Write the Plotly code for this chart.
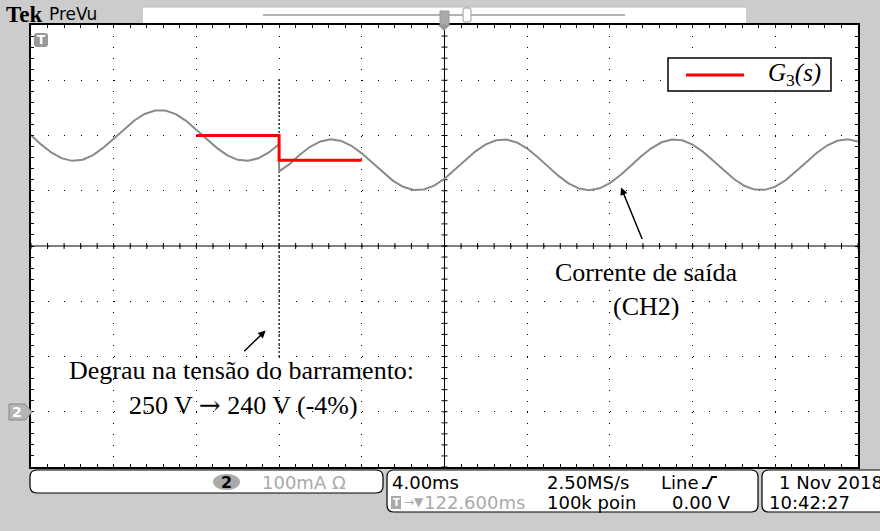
import plotly.graph_objects as go

# ---------------- data ----------------
# Channel 2 output current, time in ms (4 ms/div), current in mA (100 mA/div)
t_ms = [-20.0, -19.5, -19.0, -18.5, -18.0, -17.5, -17.0, -16.5, -16.0, -15.5,
        -15.0, -14.5, -14.0, -13.5, -13.0, -12.5, -12.0, -11.5, -11.0, -10.5,
        -10.0, -9.5, -9.0, -8.5, -8.0,
        -8.0, -7.5, -7.0, -6.5, -6.0, -5.5, -5.0, -4.5, -4.0, -3.5,
        -3.0, -2.5, -2.0, -1.5, -1.0, -0.5, 0.0, 0.5, 1.0, 1.5,
        2.0, 2.5, 3.0, 3.5, 4.0, 4.5, 5.0, 5.5, 6.0, 6.5,
        7.0, 7.5, 8.0, 8.5, 9.0, 9.5, 10.0, 10.5, 11.0, 11.5,
        12.0, 12.5, 13.0, 13.5, 14.0, 14.5, 15.0, 15.5, 16.0, 16.5,
        17.0, 17.5, 18.0, 18.5, 19.0, 19.5, 20.0]
i_ch2_ma = [500.5, 483.5, 468.8, 458.5, 454.1, 456.2, 464.5, 477.8, 494.2, 511.5,
            527.2, 539.0, 545.3, 545.1, 538.6, 526.6, 510.9, 493.6, 477.2, 464.1,
            456.0, 454.2, 458.8, 469.3, 484.1,
            435.0, 448.2, 465.1, 479.5, 489.2, 493.0, 490.2, 481.4, 467.7, 451.0,
            433.8, 418.4, 407.1, 401.5, 402.2, 409.4, 421.8, 437.8, 455.1, 471.3,
            484.0, 491.5, 492.7, 487.4, 476.4, 461.2, 444.1, 427.3, 413.3, 404.1,
            401.0, 404.4, 413.8, 427.9, 444.7, 461.9, 476.9, 487.7, 492.7, 491.3,
            483.6, 470.7, 454.5, 437.1, 421.2, 409.0, 402.1, 401.6, 407.5, 419.0,
            434.5, 451.7, 468.3, 481.8, 490.5, 493.0, 488.9]

# G3(s) model response (mean current)
g3_t_ms = [-12.0, -8.0, -4.0]
g3_i_ma = [500.0, 455.0, 455.0]
g3_label = "<i>G</i><sub>3</sub><i>(s)</i>"

step_t_ms = -8.0
x_range = [-20, 20]
y_range = [-100, 700]

# ---------------- layout helpers ----------------
W, H = 880, 531
L, R, T, B = 31, 858, 25, 467
PW, PH = R - L, B - T
GREY = "#cccccc"
SERIF = "Liberation Serif, Times New Roman, serif"
SANS = "DejaVu Sans, sans-serif"


def X(px):
    return (px - L) / PW


def Y(py):
    return (B - py) / PH


def rr_path(x0, y0, x1, y1, r):
    return (f"M {X(x0 + r)},{Y(y0)} L {X(x1 - r)},{Y(y0)} Q {X(x1)},{Y(y0)} {X(x1)},{Y(y0 + r)} "
            f"L {X(x1)},{Y(y1 - r)} Q {X(x1)},{Y(y1)} {X(x1 - r)},{Y(y1)} "
            f"L {X(x0 + r)},{Y(y1)} Q {X(x0)},{Y(y1)} {X(x0)},{Y(y1 - r)} "
            f"L {X(x0)},{Y(y0 + r)} Q {X(x0)},{Y(y0)} {X(x0 + r)},{Y(y0)} Z")


fig = go.Figure()
fig.add_trace(go.Scatter(x=t_ms, y=i_ch2_ma, mode="lines",
                         line=dict(color="#8a8a8a", width=2), showlegend=False))
fig.add_trace(go.Scatter(x=g3_t_ms, y=g3_i_ma, mode="lines",
                         line=dict(color="#ff0000", width=3, shape="hv"), showlegend=False))

shapes = []
ann = []

# center cross lines with ticks
xs_per_px = (x_range[1] - x_range[0]) / PW
ys_per_px = (y_range[1] - y_range[0]) / PH
shapes.append(dict(type="line", xref="x", yref="y", x0=0, x1=0, y0=y_range[0], y1=y_range[1],
                   line=dict(color="black", width=1), layer="between"))
shapes.append(dict(type="line", xref="x", yref="y", x0=x_range[0], x1=x_range[1], y0=300, y1=300,
                   line=dict(color="black", width=1), layer="between"))
p = ""
k = 0
while k <= 50:
    xv = x_range[0] + k * 0.8
    p += f"M {xv},{300 - 3 * ys_per_px} L {xv},{300 + 3 * ys_per_px} "
    k += 1
k = 0
while k <= 40:
    yv = y_range[0] + k * 20
    p += f"M {-3 * xs_per_px},{yv} L {3 * xs_per_px},{yv} "
    k += 1
shapes.append(dict(type="path", xref="x", yref="y", path=p,
                   line=dict(color="black", width=1), layer="between"))

# step marker (dense dotted)
shapes.append(dict(type="line", xref="x", yref="y", x0=step_t_ms, x1=step_t_ms, y0=99, y1=604,
                   line=dict(color="black", width=1.2, dash="2px,2px"), layer="between"))

# legend box
shapes.append(dict(type="rect", xref="paper", yref="paper", x0=X(668), x1=X(831), y0=Y(91), y1=Y(58),
                   line=dict(color="black", width=1.5), fillcolor="white"))
shapes.append(dict(type="line", xref="paper", yref="paper", x0=X(686), x1=X(744), y0=Y(75), y1=Y(75),
                   line=dict(color="#ff0000", width=3)))
ann.append(dict(xref="paper", yref="paper", x=X(766), y=Y(74), xanchor="left", yanchor="middle",
                text=g3_label, showarrow=False, font=dict(family=SERIF, size=25, color="black")))

# text annotations in plot
def txt(x, y, s, size=26):
    ann.append(dict(xref="x", yref="y", x=x, y=y, text=s, showarrow=False,
                    xanchor="center", yanchor="middle",
                    font=dict(family=SERIF, size=size, color="black")))

txt(9.77, 252, "Corrente de saída")
txt(9.77, 191, "(CH2)")
txt(-9.84, 75, "Degrau na tensão do barramento:")
txt(-9.72, 12, "250 V <span style='font-family:DejaVu Serif'>→</span> 240 V (-4%)")

ann.append(dict(xref="x", yref="y", axref="x", ayref="y", x=8.54, y=406, ax=9.59, ay=310,
                text="", showarrow=True, arrowhead=2, arrowsize=1, arrowwidth=1.5,
                arrowcolor="black", standoff=0))
ann.append(dict(xref="x", yref="y", axref="x", ayref="y", x=-8.65, y=147, ax=-9.76, ay=107,
                text="", showarrow=True, arrowhead=2, arrowsize=1, arrowwidth=1.5,
                arrowcolor="black", standoff=0))

# ---- top bar ----
def ptxt(px, py, s, size, color="black", family=SANS, anchor="left", bold=False):
    ann.append(dict(xref="paper", yref="paper", x=X(px), y=Y(py), text=(f"<b>{s}</b>" if bold else s),
                    showarrow=False, xanchor=anchor, yanchor="middle",
                    font=dict(family=family, size=size, color=color)))

ptxt(4, 14, "Tek", 23, family=SERIF, bold=True)
ptxt(47, 14, "PreVu", 17)
shapes.append(dict(type="rect", xref="paper", yref="paper", x0=X(143), x1=X(746), y0=Y(23), y1=Y(7),
                   line=dict(width=0), fillcolor="white"))
shapes.append(dict(type="line", xref="paper", yref="paper", x0=X(143), x1=X(746), y0=Y(7), y1=Y(7),
                   line=dict(color="#bbbbbb", width=1)))
shapes.append(dict(type="line", xref="paper", yref="paper", x0=X(263), x1=X(625), y0=Y(15), y1=Y(15),
                   line=dict(color="#999999", width=1.5)))
shapes.append(dict(type="rect", xref="paper", yref="paper", x0=X(440), x1=X(449), y0=Y(25), y1=Y(11),
                   line=dict(color="#999999", width=1), fillcolor="#aaaaaa"))
shapes.append(dict(type="path", xref="paper", yref="paper",
                   path=f"M {X(438)},{Y(25)} L {X(450)},{Y(25)} L {X(444)},{Y(31)} Z",
                   line=dict(width=0), fillcolor="#999999"))
shapes.append(dict(type="path", xref="paper", yref="paper", path=rr_path(463, 8, 471, 22, 2),
                   line=dict(color="#999999", width=1), fillcolor="white"))

# trigger icon top-left inside plot
shapes.append(dict(type="path", xref="paper", yref="paper", path=rr_path(34, 33, 48, 47, 3),
                   line=dict(width=0), fillcolor="#999999"))
ptxt(41, 40, "T", 12, color="white", anchor="center", bold=True)

# channel 2 marker
shapes.append(dict(type="path", xref="paper", yref="paper",
                   path=f"M {X(9)},{Y(404)} L {X(25)},{Y(404)} L {X(32)},{Y(412)} L {X(25)},{Y(420)} L {X(9)},{Y(420)} Z",
                   line=dict(color="#888888", width=1), fillcolor="#b5b5b5"))
ptxt(17, 412, "2", 14, color="white", anchor="center", bold=True)

# ---- bottom status bar ----
shapes.append(dict(type="path", xref="paper", yref="paper", path=rr_path(30, 470, 383, 493, 7),
                   line=dict(color="black", width=1.2), fillcolor="white"))
shapes.append(dict(type="path", xref="paper", yref="paper", path=rr_path(387, 470, 758, 512, 7),
                   line=dict(color="black", width=1.2), fillcolor="white"))
shapes.append(dict(type="path", xref="paper", yref="paper", path=rr_path(762, 470, 900, 512, 7),
                   line=dict(color="black", width=1.2), fillcolor="white"))
shapes.append(dict(type="circle", xref="paper", yref="paper", x0=X(213), x1=X(240), y0=Y(490), y1=Y(474),
                   line=dict(width=0), fillcolor="#aaaaaa"))
ptxt(226.5, 482, "2", 16, anchor="center", bold=True)
ptxt(260, 482, "100mA Ω", 18, color="#aaaaaa")
ptxt(390, 482, "4.00ms", 18)
shapes.append(dict(type="rect", xref="paper", yref="paper", x0=X(391), x1=X(401), y0=Y(509), y1=Y(496),
                   line=dict(width=0), fillcolor="#aaaaaa"))
ptxt(396, 502.5, "T", 10, color="white", anchor="center", bold=True)
ptxt(402, 502, "→▼", 12, color="#aaaaaa")
ptxt(527, 502, "122.600ms", 18, color="#aaaaaa", anchor="right")
ptxt(545, 482, "2.50MS/s", 18)
ptxt(545, 502, "100k poin", 18)
ptxt(659, 482, "Line", 18)
shapes.append(dict(type="path", xref="paper", yref="paper",
                   path=f"M {X(702)},{Y(488)} L {X(707)},{Y(488)} L {X(712)},{Y(477)} L {X(717)},{Y(477)}",
                   line=dict(color="black", width=2)))
ptxt(670, 502, "0.00 V", 18)
ptxt(777, 482, "1 Nov 2018", 18)
ptxt(767, 502, "10:42:27", 18)

axis_common = dict(showticklabels=False, showline=True, linecolor="black", linewidth=2,
                   mirror="allticks", ticks="inside", ticklen=3, tickcolor="black",
                   zeroline=False, showgrid=True, gridcolor="black", gridwidth=1, fixedrange=True)

fig.update_layout(
    width=W, height=H,
    margin=dict(l=L, r=W - R, t=T, b=H - B, pad=0),
    paper_bgcolor=GREY, plot_bgcolor="white",
    xaxis=dict(range=x_range, dtick=4, tick0=0, griddash=f"1px,{PH / 40 - 1:.3f}px",
               minor=dict(dtick=0.8, tick0=0, ticks="inside", ticklen=3, tickcolor="black", showgrid=False),
               **axis_common),
    yaxis=dict(range=y_range, dtick=100, tick0=0, griddash=f"1px,{PW / 50 - 1:.3f}px",
               minor=dict(dtick=20, tick0=0, ticks="inside", ticklen=3, tickcolor="black", showgrid=False),
               **axis_common),
    shapes=shapes, annotations=ann, showlegend=False,
)

fig.write_html("out.html", config={"displayModeBar": False},
               post_script="document.body.style.margin='0';document.body.style.padding='0';"
                           "document.documentElement.style.background='" + GREY + "';")
